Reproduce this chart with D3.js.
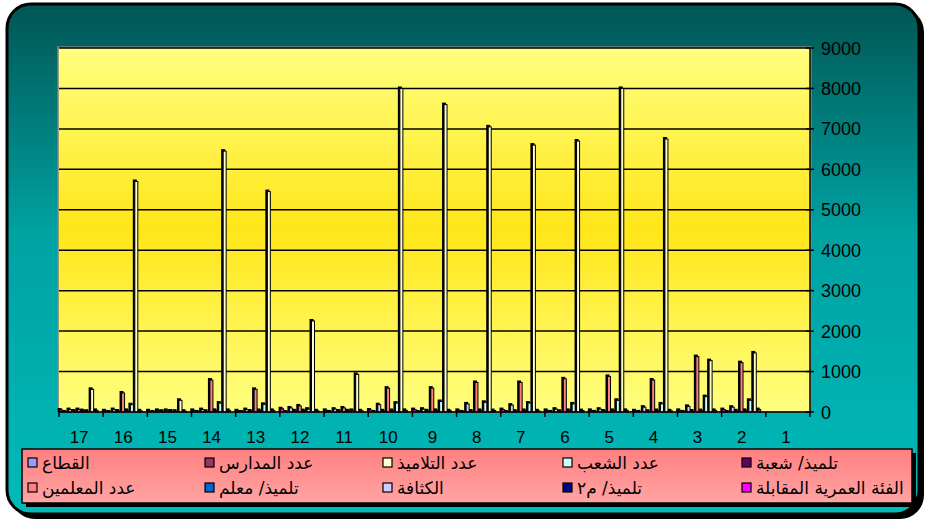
<!DOCTYPE html>
<html><head><meta charset="utf-8">
<script src="https://cdn.jsdelivr.net/npm/d3@7"></script>
<style>body{margin:0;background:#fff}svg{display:block}</style>
</head><body>
<svg id="c" width="928" height="521"></svg>
<script>
const categories = ["1","2","3","4","5","6","7","8","9","10","11","12","13","14","15","16","17"];
const seriesNames = ["القطاع","عدد المدارس","عدد التلاميذ","عدد الشعب","تلميذ/ شعبة","عدد المعلمين","تلميذ/ معلم","الكثافة","تلميذ/ م٢","الفئة العمرية المقابلة"];
const seriesColors = ["#9999FF","#993366","#FFFFCC","#CCFFFF","#660066","#FF8080","#0066CC","#CCCCFF","#000080","#FF00FF"];
const yTicks = [0,1000,2000,3000,4000,5000,6000,7000,8000,9000];
// values per category 1..17
const sector      = [0,0,0,0,0,0,0,0,0,0,0,0,0,0,0,0,0];
const schools     = [0,60,40,30,40,35,30,35,30,40,30,30,40,40,20,30,40];
const students    = [0,1460,1270,6750,8000,6700,6600,7050,7600,8000,930,2250,5450,6450,290,5700,560];
const sections    = [0,290,380,200,290,200,220,240,260,220,40,70,190,220,20,180,20];
const perSection  = [0,40,35,38,40,40,38,39,40,38,30,35,38,40,25,40,35];
const teachers    = [0,1220,1370,790,880,820,730,730,590,590,100,150,560,790,40,470,60];
const perTeacher  = [0,30,25,20,25,20,20,25,30,30,25,30,25,20,20,25,25];
const density     = [0,120,140,120,70,70,170,200,70,180,70,100,60,60,40,60,60];
const perM2       = [0,2,2,2,2,2,2,2,2,2,1,1,2,2,1,2,1];
const ageGroup    = [0,60,40,30,40,40,60,40,60,50,40,80,30,40,30,30,50];
const seriesValues = [sector,schools,students,sections,perSection,teachers,perTeacher,density,perM2,ageGroup];

const svg = d3.select("#c");
const defs = svg.append("defs");
const g1 = defs.append("linearGradient").attr("id","bg").attr("x1",0).attr("y1",0).attr("x2",0).attr("y2",1);
[[0,"#005654"],[0.45,"#00A2A2"],[1,"#00BABA"]].forEach(s=>g1.append("stop").attr("offset",s[0]).attr("stop-color",s[1]));
const g2 = defs.append("linearGradient").attr("id","plot").attr("x1",0).attr("y1",0).attr("x2",0).attr("y2",1);
[[0,"#FFFF80"],[0.5,"#FFE619"],[1,"#FFFF80"]].forEach(s=>g2.append("stop").attr("offset",s[0]).attr("stop-color",s[1]));
const g3 = defs.append("linearGradient").attr("id","leg").attr("x1",0).attr("y1",0).attr("x2",0).attr("y2",1);
[[0,"#FF8080"],[1,"#FFA4A4"]].forEach(s=>g3.append("stop").attr("offset",s[0]).attr("stop-color",s[1]));

// outer frame with shadow
svg.append("rect").attr("x",11).attr("y",8).attr("width",913).attr("height",511).attr("rx",24).attr("fill","#000");
svg.append("rect").attr("x",7).attr("y",4).attr("width",912).attr("height",510).attr("rx",24)
  .attr("fill","url(#bg)").attr("stroke","#000").attr("stroke-width",3);

const L=59, R=810, T=48, B=412;
svg.append("rect").attr("x",L-1).attr("y",T-1).attr("width",R-L+2).attr("height",B-T+1)
  .attr("fill","url(#plot)").attr("stroke","#808080").attr("stroke-width",1.5);

const x = d3.scaleBand().domain(categories.slice().reverse()).range([L,R]).padding(0);
const xi = d3.scaleBand().domain(d3.range(10).reverse()).range([0,x.bandwidth()]).padding(0);
const y = d3.scaleLinear().domain([0,9000]).range([B,T]);

// gridlines
svg.append("g").selectAll("line").data(yTicks.filter(t=>t>0)).join("line")
  .attr("x1",L).attr("x2",R).attr("y1",d=>y(d)).attr("y2",d=>y(d))
  .attr("stroke","#000").attr("stroke-width",1.5);

// bars
const bw = 3;
const bars = [];
categories.forEach((c,ci)=>{
  seriesValues.forEach((arr,si)=>{
    bars.push({c, si, v: arr[ci]});
  });
});
const bg = svg.append("g");
bars.filter(d=>d.v>0).forEach(d=>{
  const cx = x(d.c) + xi(d.si) + xi.bandwidth()/2;
  const top = y(d.v), h = B - top;
  bg.append("rect").attr("x",cx-bw/2-2).attr("y",top-2).attr("width",bw+1).attr("height",h+2).attr("fill","#000");
  bg.append("rect").attr("x",cx-bw/2).attr("y",top).attr("width",bw).attr("height",h)
    .attr("fill",seriesColors[d.si]).attr("stroke","#000").attr("stroke-width",1);
});

// x axis
const xa = svg.append("g");
xa.append("line").attr("x1",L).attr("x2",R).attr("y1",B).attr("y2",B).attr("stroke","#000").attr("stroke-width",1.5);
const bounds = categories.map(c=>x(c)).concat([R]);
xa.selectAll("line.t").data(bounds).join("line").attr("class","t")
  .attr("x1",d=>d).attr("x2",d=>d).attr("y1",B).attr("y2",B+5).attr("stroke","#000").attr("stroke-width",1.5);
xa.selectAll("text").data(categories).join("text")
  .attr("x",d=>x(d)+x.bandwidth()/2-2).attr("y",443)
  .attr("text-anchor","middle").attr("font-family","Liberation Sans, Arial, sans-serif")
  .attr("font-size",17).attr("fill","#000").text(d=>d);

// y axis right
const ya = svg.append("g");
ya.append("line").attr("x1",R).attr("x2",R).attr("y1",T).attr("y2",B).attr("stroke","#000").attr("stroke-width",1.5);
ya.selectAll("line.t").data(yTicks).join("line").attr("class","t")
  .attr("x1",R-4).attr("x2",R+4).attr("y1",d=>y(d)).attr("y2",d=>y(d)).attr("stroke","#000").attr("stroke-width",1.5);
ya.selectAll("text").data(yTicks).join("text")
  .attr("x",R+11).attr("y",d=>y(d)+6.5)
  .attr("font-family","Liberation Sans, Arial, sans-serif").attr("font-size",18).attr("fill","#000")
  .text(d=>d);

// legend
svg.append("rect").attr("x",26).attr("y",453).attr("width",890).attr("height",54).attr("fill","#000");
svg.append("rect").attr("x",22).attr("y",449).attr("width",890).attr("height",54)
  .attr("fill","url(#leg)").attr("stroke","#000").attr("stroke-width",1.5);
const colX = [28,205,383,563,742];
const rowY = [463,488];
seriesNames.forEach((n,i)=>{
  const col = i%5, row = Math.floor(i/5);
  const gx = colX[col], gy = rowY[row];
  svg.append("rect").attr("x",gx).attr("y",gy-5).attr("width",9).attr("height",9)
    .attr("fill",seriesColors[i]).attr("stroke","#000").attr("stroke-width",1.2);
  svg.append("text").attr("x",gx+14).attr("y",gy+6)
    .attr("font-family","DejaVu Sans, sans-serif").attr("font-size",17).attr("fill","#000")
    .text(n);
});
</script>
</body></html>
